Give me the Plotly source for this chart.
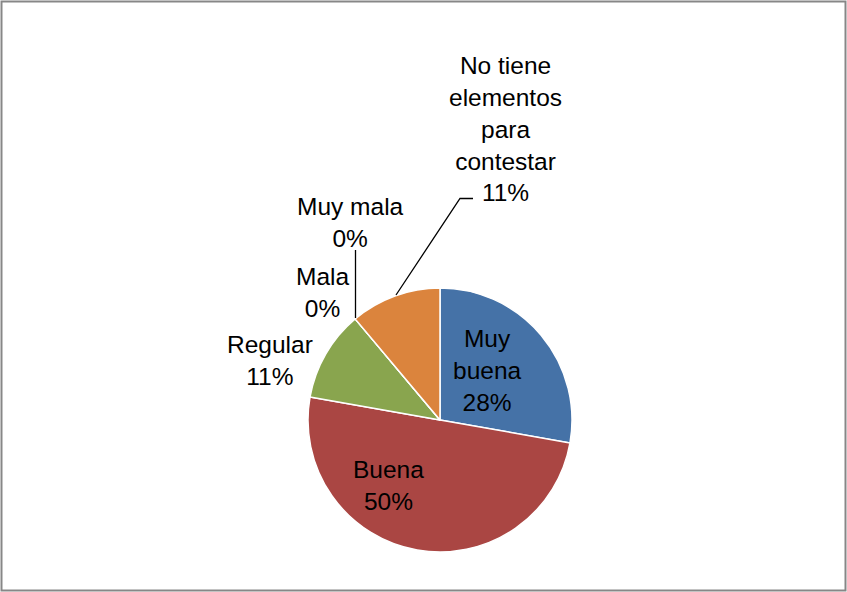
import plotly.graph_objects as go

categories = ["Muy buena", "Buena", "Regular", "Mala", "Muy mala", "No tiene elementos para contestar"]
values = [5, 9, 2, 0, 0, 2]
pct_labels = ["28%", "50%", "11%", "0%", "0%", "11%"]
colors = ["#4572A7", "#AA4643", "#89A54E", "#71588F", "#4198AF", "#DB843D"]

W, H = 847, 592

def px(x):
    return x / W

def py(y):
    return 1 - y / H

cx, cy, r = 440, 420, 132

fig = go.Figure(go.Pie(
    labels=categories,
    values=values,
    sort=False,
    direction="clockwise",
    rotation=0,
    marker=dict(colors=colors, line=dict(color="white", width=1.5)),
    textinfo="none",
    showlegend=False,
    domain=dict(x=[px(cx - r), px(cx + r)], y=[py(cy + r), py(cy - r)]),
))

font = dict(family="Liberation Sans, Arial, sans-serif", size=24.5, color="black")

label_specs = [
    ("Muy<br>buena<br>" + pct_labels[0], 487, 370),
    ("Buena<br>" + pct_labels[1], 388, 485),
    ("Regular<br>" + pct_labels[2], 270, 360),
    ("Mala<br>" + pct_labels[3], 322, 292),
    ("Muy mala<br>" + pct_labels[4], 350, 222),
    ("No tiene<br>elementos<br>para<br>contestar<br>" + pct_labels[5], 505, 129),
]

annotations = []
for text, x, y in label_specs:
    annotations.append(dict(
        text=text, x=px(x), y=py(y), xref="paper", yref="paper",
        xanchor="center", yanchor="middle", showarrow=False, align="center",
        font=font,
    ))

shapes = [
    # outer border
    dict(type="rect", xref="paper", yref="paper", x0=px(1.5), y0=py(590.5), x1=px(845.5), y1=py(1.5),
         line=dict(color="#878787", width=2)),
    # leader: Muy mala
    dict(type="line", xref="paper", yref="paper", x0=px(355.5), y0=py(250), x1=px(355.5), y1=py(318),
         line=dict(color="black", width=1.3)),
    # leader: No tiene elementos
    dict(type="path", xref="paper", yref="paper",
         path=f"M {px(396)} {py(295)} L {px(460)} {py(198.5)} L {px(473)} {py(198.5)}",
         line=dict(color="black", width=1.3)),
]

fig.update_layout(
    width=W, height=H,
    margin=dict(l=0, r=0, t=0, b=0),
    paper_bgcolor="white",
    plot_bgcolor="white",
    annotations=annotations,
    shapes=shapes,
)

fig.write_html(
    "out.html",
    config={"displayModeBar": False},
    post_script="document.body.style.margin='0';document.body.style.padding='0';document.body.style.overflow='hidden';",
)
